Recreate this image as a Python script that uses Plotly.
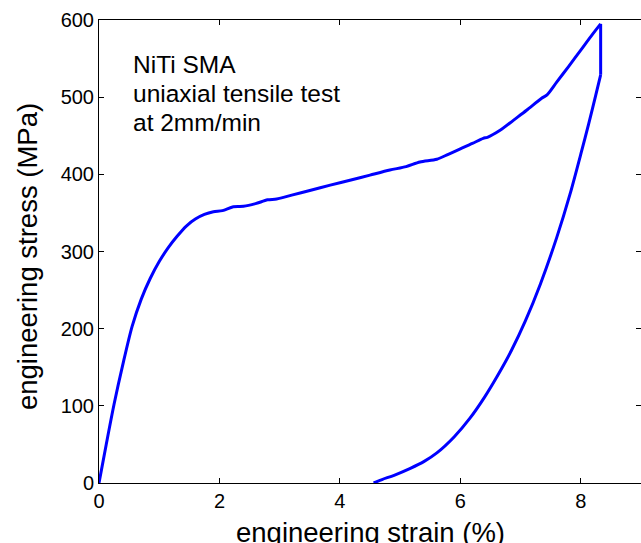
import plotly.graph_objects as go

# Loading branch (strain %, stress MPa)
load_strain = [0, 0.12, 0.25, 0.40, 0.55, 0.70, 0.85, 1.0, 1.15, 1.3, 1.45, 1.6, 1.75, 1.9,
               2.05, 2.23, 2.4, 2.6, 2.8, 2.95, 3.2, 3.5, 3.84, 4.2, 4.5, 4.83, 5.1,
               5.33, 5.61, 5.8, 6.0, 6.2, 6.38, 6.45, 6.66, 6.88, 7.1, 7.35, 7.44, 7.6,
               7.8, 8.0, 8.2, 8.33]
load_stress = [0, 50, 102, 155, 203, 238, 265, 287, 305, 320, 333, 342, 348, 351.5,
               353, 358, 358.5, 362, 367, 368, 373, 379, 386, 393, 399, 405.6, 410,
               416, 419.5, 426, 433, 440, 446.7, 448, 457, 470, 483, 498.5, 503, 519.5,
               540, 561, 582, 595]

# Sudden drop at maximum strain
drop_strain = [8.33, 8.33]
drop_stress = [595, 529]

# Unloading branch
unload_strain = [8.33, 8.25, 8.13, 8.02, 7.82, 7.6, 7.33, 7.08, 6.85, 6.61, 6.4,
                 6.16, 5.9, 5.61, 5.4, 5.17, 4.9, 4.7, 4.56]
unload_stress = [529, 503, 465, 432, 374, 318, 258, 210, 172, 138, 111,
                 84, 60, 39, 28, 19, 10, 4.5, 0]

x_ticks = [0, 2, 4, 6, 8]
y_ticks = [0, 100, 200, 300, 400, 500, 600]

note_lines = ["NiTi SMA", "uniaxial tensile test", "at 2mm/min"]

FONT = "Liberation Sans, Arial, Helvetica, sans-serif"
BLUE = "#0000ff"

fig = go.Figure()
fig.add_trace(go.Scatter(x=load_strain, y=load_stress, mode="lines",
                         line=dict(color=BLUE, width=3, shape="spline", smoothing=0.8),
                         showlegend=False))
fig.add_trace(go.Scatter(x=drop_strain, y=drop_stress, mode="lines",
                         line=dict(color=BLUE, width=3), showlegend=False))
fig.add_trace(go.Scatter(x=unload_strain, y=unload_stress, mode="lines",
                         line=dict(color=BLUE, width=3, shape="spline", smoothing=0.8),
                         showlegend=False))

axis_common = dict(showline=True, linecolor="black", linewidth=1, mirror="ticks",
                   ticks="inside", ticklen=5, tickcolor="black", tickwidth=1,
                   showgrid=False, zeroline=False,
                   tickfont=dict(family=FONT, size=20, color="black"))

fig.update_xaxes(range=[0, 9], tickvals=x_ticks, ticktext=[str(v) for v in x_ticks],
                 **axis_common)
fig.update_yaxes(range=[0, 600], tickvals=y_ticks, ticktext=[str(v) for v in y_ticks],
                 **axis_common)

note_y = [0.9374, 0.8747, 0.8121]
for txt, yy in zip(note_lines, note_y):
    fig.add_annotation(text=txt, xref="paper", yref="paper", x=0.059, y=yy,
                       xanchor="left", yanchor="top", align="left", showarrow=False,
                       font=dict(family=FONT, size=24.5, color="black"))

fig.add_annotation(text="engineering strain (%)", xref="paper", yref="paper",
                   x=0.5, y=-0.069, xanchor="center", yanchor="top", showarrow=False,
                   font=dict(family=FONT, size=27.5, color="black"))
fig.add_annotation(text="engineering stress (MPa)", xref="paper", yref="paper",
                   x=-0.133, y=0.49, xanchor="center", yanchor="middle", textangle=-90,
                   showarrow=False, font=dict(family=FONT, size=27.5, color="black"))

fig.update_layout(width=641, height=543, margin=dict(l=99, r=0, t=20, b=60),
                  paper_bgcolor="white", plot_bgcolor="white")

fig.write_html("out.html")
